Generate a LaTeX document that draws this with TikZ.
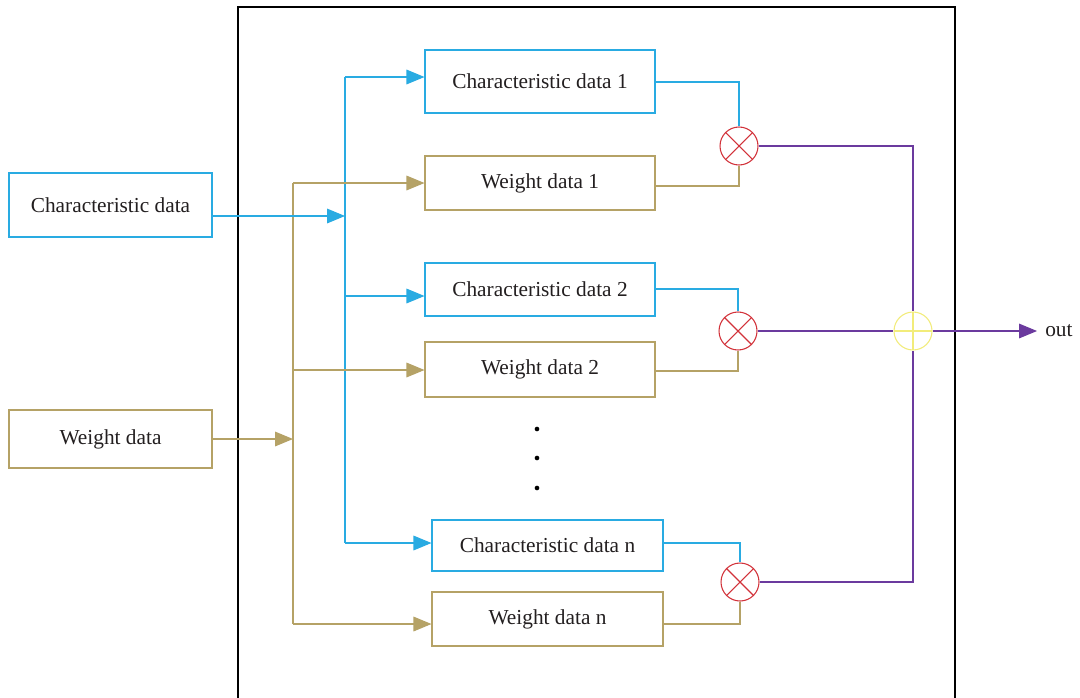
\documentclass[tikz,border=0pt]{standalone}
\usepackage{fontspec}
\setmainfont{Liberation Serif}
\usetikzlibrary{arrows.meta}
\definecolor{cblue}{HTML}{29ABE2}
\definecolor{ctan}{HTML}{B5A266}
\definecolor{cred}{HTML}{D2323A}
\definecolor{cpurple}{HTML}{6B3A9E}
\definecolor{cyellow}{HTML}{F2EC7A}
\definecolor{ctext}{HTML}{231F20}
\tikzset{
  cbox/.style={draw=cblue, line width=0.8pt, inner sep=0pt, text=ctext, font=\fontsize{16}{19}\selectfont},
  wbox/.style={draw=ctan, line width=0.8pt, inner sep=0pt, text=ctext, font=\fontsize{16}{19}\selectfont},
  cline/.style={draw=cblue, line width=0.8pt},
  wline/.style={draw=ctan, line width=0.8pt},
  pline/.style={draw=cpurple, line width=0.8pt},
  carrow/.style={cline, -{Triangle[length=13.5pt,width=11pt]}},
  warrow/.style={wline, -{Triangle[length=13.5pt,width=11pt]}},
  parrow/.style={pline, -{Triangle[length=13.5pt,width=11pt]}},
  mulnode/.style={circle, draw=cred, line width=0.8pt, minimum size=28.5pt, inner sep=0pt,
    path picture={\draw[cred, line width=0.8pt] (path picture bounding box.north west) -- (path picture bounding box.south east)
      (path picture bounding box.north east) -- (path picture bounding box.south west);}},
  addnode/.style={circle, draw=cyellow, line width=0.8pt, minimum size=28.5pt, inner sep=0pt,
    path picture={\draw[cyellow, line width=0.8pt] (path picture bounding box.north) -- (path picture bounding box.south)
      (path picture bounding box.east) -- (path picture bounding box.west);}},
  dotnode/.style={circle, fill=black, minimum size=3.5pt, inner sep=0pt},
}
\begin{document}
\begin{tikzpicture}[x=0.75pt, y=-0.75pt]
\useasboundingbox (0,0) rectangle (1080,697);
\clip (0,0) rectangle (1080,697);
\fill[white] (0,0) rectangle (1080,697);
% outer frame
\draw[black, line width=1pt] (238,7) rectangle (955,740);
% left inputs
\node[cbox, minimum width=152.25pt, minimum height=48pt] (CD) at (110.5,205) {Characteristic data};
\node[wbox, minimum width=152.25pt, minimum height=43.5pt] (WD) at (110.5,439) {Weight data};
% boxes
\node[cbox, minimum width=172.5pt, minimum height=47.25pt] (C1) at (540,81.5) {Characteristic data 1};
\node[wbox, minimum width=172.5pt, minimum height=40.5pt] (W1) at (540,183) {Weight data 1};
\node[cbox, minimum width=172.5pt, minimum height=39.75pt] (C2) at (540,289.5) {Characteristic data 2};
\node[wbox, minimum width=172.5pt, minimum height=41.25pt] (W2) at (540,369.5) {Weight data 2};
\node[cbox, minimum width=173.25pt, minimum height=38.25pt] (Cn) at (547.5,545.5) {Characteristic data n};
\node[wbox, minimum width=173.25pt, minimum height=40.5pt] (Wn) at (547.5,619) {Weight data n};
% dots
\node[dotnode] (d1) at (537,429) {};
\node[dotnode] (d2) at (537,458) {};
\node[dotnode] (d3) at (537,488) {};
% buses
\coordinate (cb) at (345,216);
\coordinate (wb) at (293,439);
\draw[cline] (345,77) -- (345,543);
\draw[wline] (293,183) -- (293,624);
\draw[carrow] (CD.east |- cb) -- (cb);
\draw[warrow] (WD.east |- wb) -- (wb);
\draw[carrow] (345,77) -- (C1.west |- 0,77);
\draw[carrow] (345,296) -- (C2.west |- 0,296);
\draw[carrow] (345,543) -- (Cn.west |- 0,543);
\draw[warrow] (293,183) -- (W1.west |- 0,183);
\draw[warrow] (293,370) -- (W2.west |- 0,370);
\draw[warrow] (293,624) -- (Wn.west |- 0,624);
% multipliers
\node[mulnode] (m1) at (739,146) {};
\node[mulnode] (m2) at (738,331) {};
\node[mulnode] (m3) at (740,582) {};
\draw[cline] (C1.east |- 0,82) -| (m1.north);
\draw[wline] (W1.east |- 0,186) -| (m1.south);
\draw[cline] (C2.east |- 0,289) -| (m2.north);
\draw[wline] (W2.east |- 0,371) -| (m2.south);
\draw[cline] (Cn.east |- 0,543) -| (m3.north);
\draw[wline] (Wn.east |- 0,624) -| (m3.south);
% adder
\node[addnode] (add) at (913,331) {};
\node[text=ctext, font=\fontsize{16}{19}\selectfont, anchor=west, inner sep=0pt] (out) at (1045,331) {out};
\draw[pline] (m1.east) -| (add.north);
\draw[pline] (m3.east) -| (add.south);
\draw[pline] (m2.east) -- (add.west);
\draw[parrow] (add.east) -- ([xshift=-6pt]out.west);
\end{tikzpicture}
\end{document}
